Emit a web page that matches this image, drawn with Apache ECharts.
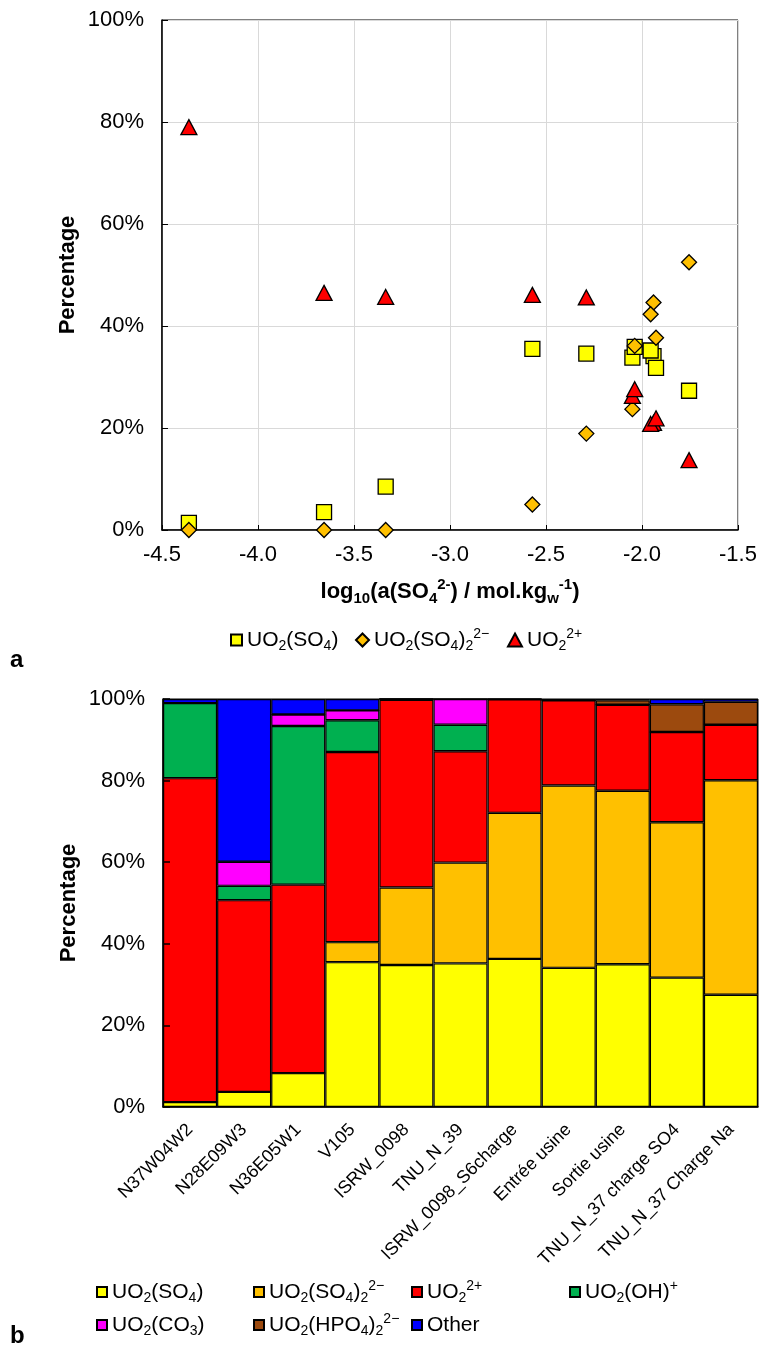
<!DOCTYPE html>
<html>
<head>
<meta charset="utf-8">
<script src="https://cdn.jsdelivr.net/npm/echarts@6.0.0/dist/echarts.min.js"></script>
<style>
html, body { margin: 0; padding: 0; background: #fff; }
#chart { width: 761px; height: 1353px; }
</style>
</head>
<body>
<div id="chart"></div>
<script>
const FONT = '"Liberation Sans", Arial, Helvetica, sans-serif'

// panel a : share of each species vs log10 a(SO4 2-)
const logSO4 = [-4.36, -3.656, -3.335, -2.571, -2.29, -2.05, -2.038, -1.94, -1.955, -1.927, -1.755]
const pctSO4 = [1.4, 3.5, 8.5, 35.5, 34.6, 33.8, 35.9, 34.1, 35.2, 31.8, 27.3]
const pctSO4x2 = [0, 0, 0, 5.0, 18.9, 23.7, 36.1, 44.6, 42.3, 37.7, 52.5]
const pctUO2 = [79.0, 46.5, 45.7, 46.1, 45.6, 26.3, 27.6, 21.0, 20.8, 21.9, 13.7]
const xTicks = [-4.5, -1.5, 0.5] // min, max, step
const yTicks = [0, 100, 20]

// panel b : speciation per sample (stacked %)
const samples = ['N37W04W2', 'N28E09W3', 'N36E05W1', 'V105', 'ISRW_0098', 'TNU_N_39',
  'ISRW_0098_S6charge', 'Entrée usine', 'Sortie usine', 'TNU_N_37 charge SO4', 'TNU_N_37 Charge Na']
const barSO4 = [1.2, 3.7, 8.3, 35.5, 34.8, 35.2, 36.3, 34.1, 35.0, 31.7, 27.5]
const barSO4x2 = [0, 0, 0, 4.9, 19.0, 24.7, 35.8, 44.7, 42.5, 38.1, 52.6]
const barUO2 = [79.4, 47.0, 46.2, 46.6, 46.0, 27.3, 27.8, 20.9, 21.1, 22.1, 13.6]
const barOH = [18.4, 3.5, 38.9, 7.8, 0.2, 6.5, 0, 0, 0, 0, 0]
const barCO3 = [0, 5.9, 2.8, 2.4, 0, 6.3, 0, 0, 0, 0, 0]
const barHPO4 = [0, 0, 0, 0, 0, 0, 0, 0, 1.1, 6.8, 5.6]
const barOther = [1.0, 39.9, 3.8, 2.8, 0, 0, 0.1, 0.3, 0.3, 1.3, 0.7]

const labels = {
  a_SO4: 'UO{sub|2}(SO{sub|4})',
  a_SO4x2: 'UO{sub|2}(SO{sub|4}){sub|2}{sup|2−}',
  a_UO2: 'UO{sub|2}{sup|2+}',
  b_SO4: 'UO{sub|2}(SO{sub|4})',
  b_SO4x2: 'UO{sub|2}(SO{sub|4}){sub|2}{sup|2−}',
  b_UO2: 'UO{sub|2}{sup|2+}',
  b_OH: 'UO{sub|2}(OH){sup|+}',
  b_CO3: 'UO{sub|2}(CO{sub|3})',
  b_HPO4: 'UO{sub|2}(HPO{sub|4}){sub|2}{sup|2−}',
  b_Other: 'Other',
}

const legendText = {
  fontFamily: FONT,
  fontSize: 21,
  lineHeight: 26,
  color: '#000',
  rich: {
    sub: { fontFamily: FONT, fontSize: 14, lineHeight: 14, verticalAlign: 'bottom', color: '#000' },
    sup: { fontFamily: FONT, fontSize: 14, lineHeight: 14, verticalAlign: 'top', color: '#000' },
  },
}

function legendAt(name, left, top, size) {
  return {
    data: [name],
    left, top,
    itemWidth: size[0],
    itemHeight: size[1],
    selectedMode: false,
    padding: 0,
    formatter: (n) => labels[n],
    textStyle: legendText,
  }
}

const axisLbl = { fontFamily: FONT, fontSize: 22, color: '#000' }
const nameBold = {
  fontFamily: FONT, fontSize: 22, fontWeight: 'bold', color: '#000',
  rich: {
    s: { fontFamily: FONT, fontSize: 15, fontWeight: 'bold', lineHeight: 15, verticalAlign: 'bottom', color: '#000' },
    p: { fontFamily: FONT, fontSize: 15, fontWeight: 'bold', lineHeight: 15, verticalAlign: 'top', color: '#000' },
  },
  lineHeight: 29,
}

const zip = (xs, ys) => xs.map((x, i) => [x, ys[i]])

function scatter(name, symbol, size, data, color) {
  return {
    name, type: 'scatter', xAxisIndex: 0, yAxisIndex: 0,
    symbol, symbolSize: size, data,
    itemStyle: { color, borderColor: '#000', borderWidth: 1.3, opacity: 1 },
    emphasis: { disabled: true },
  }
}
function bar(name, data, color) {
  return {
    name, type: 'bar', xAxisIndex: 1, yAxisIndex: 1, stack: 'b',
    barCategoryGap: '0%', data,
    itemStyle: { color, borderColor: '#000', borderWidth: 1.2 },
    emphasis: { disabled: true },
  }
}

const chart = echarts.init(document.getElementById('chart'))
chart.setOption({
  animation: false,
  backgroundColor: '#fff',
  textStyle: { fontFamily: FONT },
  grid: [
    { left: 162, top: 20, width: 576, height: 510, show: true, borderColor: '#000', borderWidth: 1, containLabel: false, outerBoundsMode: 'none' },
    { left: 163, top: 699, width: 595, height: 408, show: true, borderColor: '#000', borderWidth: 1, containLabel: false, outerBoundsMode: 'none' },
  ],
  xAxis: [
    {
      gridIndex: 0, type: 'value', min: xTicks[0], max: xTicks[1], interval: xTicks[2],
      axisLine: { onZero: false, lineStyle: { color: '#000', width: 1.5 } },
      axisTick: { inside: true, length: 5, lineStyle: { color: '#000' } },
      splitLine: { show: true, lineStyle: { color: '#d9d9d9', width: 1 } },
      axisLabel: { ...axisLbl, margin: 14, formatter: (v) => v.toFixed(1) },
      name: 'log{s|10}(a(SO{s|4}{p|2-}) / mol.kg{s|w}{p|-1})',
      nameLocation: 'middle', nameGap: 47, nameTextStyle: nameBold,
    },
    {
      gridIndex: 1, type: 'category', data: samples,
      axisLine: { lineStyle: { color: '#000', width: 1.5 } },
      axisTick: { show: false },
      axisLabel: { fontFamily: FONT, fontSize: 18, color: '#000', rotate: 45, interval: 0, margin: 20 },
    },
  ],
  yAxis: [
    {
      gridIndex: 0, type: 'value', min: yTicks[0], max: yTicks[1], interval: yTicks[2],
      axisLine: { show: true, lineStyle: { color: '#000', width: 1.5 } },
      axisTick: { show: true, inside: true, length: 6, lineStyle: { color: '#000' } },
      splitLine: { show: true, lineStyle: { color: '#d9d9d9', width: 1 } },
      axisLabel: { ...axisLbl, margin: 18, formatter: '{value}%' },
      name: 'Percentage', nameLocation: 'middle', nameGap: 80, nameMoveOverlap: false, nameTextStyle: nameBold,
    },
    {
      gridIndex: 1, type: 'value', min: yTicks[0], max: yTicks[1], interval: yTicks[2], z: 10,
      axisLine: { show: true, lineStyle: { color: '#000', width: 1.5 } },
      axisTick: { show: true, inside: true, length: 7, lineStyle: { color: '#000', width: 1.5 } },
      splitLine: { show: false },
      axisLabel: { ...axisLbl, margin: 18, formatter: '{value}%' },
      name: 'Percentage', nameLocation: 'middle', nameGap: 80, nameMoveOverlap: false, nameTextStyle: nameBold,
    },
  ],
  legend: [
    legendAt('a_SO4', 230, 627, [11, 11]),
    legendAt('a_SO4x2', 355, 627, [13, 13]),
    legendAt('a_UO2', 507, 627, [14, 13]),
    legendAt('b_SO4', 96, 1279, [10, 10]),
    legendAt('b_SO4x2', 253, 1279, [10, 10]),
    legendAt('b_UO2', 411, 1279, [10, 10]),
    legendAt('b_OH', 569, 1279, [10, 10]),
    legendAt('b_CO3', 96, 1312, [10, 10]),
    legendAt('b_HPO4', 253, 1312, [10, 10]),
    legendAt('b_Other', 411, 1312, [10, 10]),
  ].map((l, i) => (i >= 3 ? { ...l, icon: 'rect' } : l)),
  graphic: [
    { type: 'text', left: 10, top: 648, style: { text: 'a', font: 'bold 24px ' + FONT, fill: '#000' } },
    { type: 'text', left: 10, top: 1324, style: { text: 'b', font: 'bold 24px ' + FONT, fill: '#000' } },
  ],
  series: [
    scatter('a_SO4', 'rect', 15, zip(logSO4, pctSO4), '#ffff00'),
    scatter('a_SO4x2', 'diamond', 15, zip(logSO4, pctSO4x2), '#ffc000'),
    scatter('a_UO2', 'triangle', [16, 15], zip(logSO4, pctUO2), '#ff0000'),
    bar('b_SO4', barSO4, '#ffff00'),
    bar('b_SO4x2', barSO4x2, '#ffc000'),
    bar('b_UO2', barUO2, '#ff0000'),
    bar('b_OH', barOH, '#00b050'),
    bar('b_CO3', barCO3, '#ff00ff'),
    bar('b_HPO4', barHPO4, '#9c4a0e'),
    bar('b_Other', barOther, '#0000ff'),
  ],
})
</script>
</body>
</html>
